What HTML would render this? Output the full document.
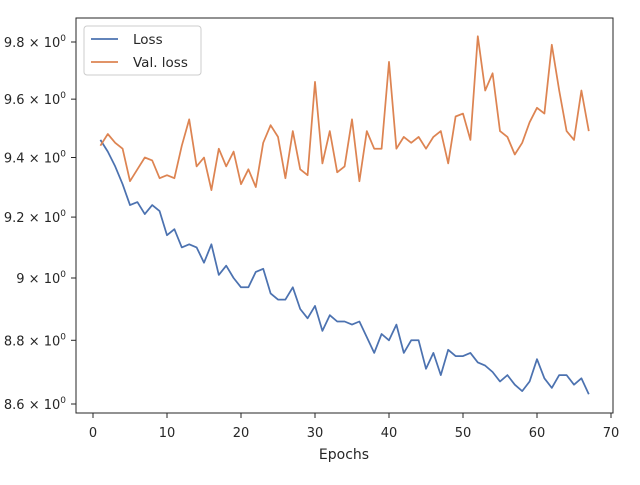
<!DOCTYPE html>
<html><head><meta charset="utf-8"><style>
body{margin:0;background:#fff;font-family:"Liberation Sans","DejaVu Sans",sans-serif;}
svg text{font-family:"DejaVu Sans","Liberation Sans",sans-serif;fill:#262626;}
</style></head><body>
<svg id="chart" width="640" height="480" xmlns="http://www.w3.org/2000/svg">
<rect width="640" height="480" fill="#fff"/>
<g id="grid"></g>
<g id="series"></g>
<rect x="76" y="18" width="537" height="395" fill="none" stroke="#262626" stroke-width="1"/>
<g id="xt"></g><g id="yt"></g>
<text x="344" y="459" font-size="14" text-anchor="middle">Epochs</text>
<g>
<rect x="84" y="26" width="117" height="49" rx="3" fill="#fff" fill-opacity="0.8" stroke="#ccc"/>
<line x1="91" y1="39" x2="118" y2="39" stroke="#4c72b0" stroke-width="1.75"/>
<text x="133" y="44" font-size="13.5">Loss</text>
<line x1="91" y1="62" x2="118" y2="62" stroke="#dd8452" stroke-width="1.75"/>
<text x="133" y="67" font-size="13.5">Val. loss</text>
</g>
</svg>
<script>
const epochs = Array.from({length:67},(_,i)=>i+1);
const lossValues = [9.46,9.42,9.37,9.31,9.24,9.25,9.21,9.24,9.22,9.14,9.16,9.10,9.11,9.10,9.05,9.11,9.01,9.04,9.00,8.97,8.97,9.02,9.03,8.95,8.93,8.93,8.97,8.90,8.87,8.91,8.83,8.88,8.86,8.86,8.85,8.86,8.81,8.76,8.82,8.80,8.85,8.76,8.80,8.80,8.71,8.76,8.69,8.77,8.75,8.75,8.76,8.73,8.72,8.70,8.67,8.69,8.66,8.64,8.67,8.74,8.68,8.65,8.69,8.69,8.66,8.68,8.63];
const valLossValues = [9.44,9.48,9.45,9.43,9.32,9.36,9.40,9.39,9.33,9.34,9.33,9.44,9.53,9.37,9.40,9.29,9.43,9.37,9.42,9.31,9.36,9.30,9.45,9.51,9.47,9.33,9.49,9.36,9.34,9.66,9.38,9.49,9.35,9.37,9.53,9.32,9.49,9.43,9.43,9.73,9.43,9.47,9.45,9.47,9.43,9.47,9.49,9.38,9.54,9.55,9.46,9.82,9.63,9.69,9.49,9.47,9.41,9.45,9.52,9.57,9.55,9.79,9.63,9.49,9.46,9.63,9.49];
const xTicks = [0,10,20,30,40,50,60,70];
const yTicks = [8.6,8.8,9.0,9.2,9.4,9.6,9.8];
const yTickLabels = ["8.6","8.8","9","9.2","9.4","9.6","9.8"];
const NS="http://www.w3.org/2000/svg";
const X0=93, XS=7.4;
function xs(v){return X0+v*XS;}
const LTOP=Math.log(9.8), LBOT=Math.log(8.6);
function ys(v){return 42+(LTOP-Math.log(v))/(LTOP-LBOT)*362;}
const xt=document.getElementById('xt'), yt=document.getElementById('yt'), sg=document.getElementById('series');
xTicks.forEach(t=>{
  const l=document.createElementNS(NS,'line');
  l.setAttribute('x1',xs(t));l.setAttribute('x2',xs(t));l.setAttribute('y1',413);l.setAttribute('y2',418);l.setAttribute('stroke','#262626');
  
  
  xt.appendChild(l);
  const tx=document.createElementNS(NS,'text');
  tx.setAttribute('x',xs(t));tx.setAttribute('y',437);tx.setAttribute('font-size','13');tx.setAttribute('text-anchor','middle');
  tx.textContent=t;
  
  
  xt.appendChild(tx);
});
yTicks.forEach((t,i)=>{
  const y=ys(t);
  const l=document.createElementNS(NS,'line');
  l.setAttribute('x1',71);l.setAttribute('x2',76);l.setAttribute('y1',y);l.setAttribute('y2',y);l.setAttribute('stroke','#262626');
  
  
  yt.appendChild(l);
  const tx=document.createElementNS(NS,'text');
  tx.setAttribute('x',66);tx.setAttribute('y',y+5);tx.setAttribute('font-size','13');tx.setAttribute('text-anchor','end');
  tx.innerHTML=yTickLabels[i]+' × 10<tspan dy="-6" font-size="9">0</tspan>';
  
  
  yt.appendChild(tx);
});
function line(vals,color,name){
  const p=document.createElementNS(NS,'polyline');
  p.setAttribute('points',vals.map((v,i)=>xs(epochs[i]).toFixed(1)+','+ys(v).toFixed(1)).join(' '));
  p.setAttribute('fill','none');p.setAttribute('stroke',color);p.setAttribute('stroke-width','1.75');p.setAttribute('stroke-linejoin','round');
  
  
  sg.appendChild(p);
}
line(lossValues,'#4c72b0','loss-line');
line(valLossValues,'#dd8452','val-loss-line');
</script>
</body></html>
